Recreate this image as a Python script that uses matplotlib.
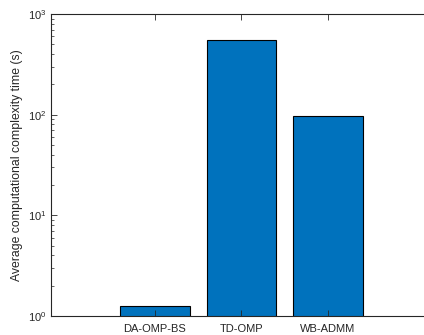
import numpy as np
import matplotlib.pyplot as plt
from matplotlib.ticker import LogLocator, NullFormatter

plt.rcParams['font.family'] = ['Liberation Sans', 'DejaVu Sans']
plt.rcParams['font.size'] = 8

# data
methods = ['DA-OMP-BS', 'TD-OMP', 'WB-ADMM']
times = [1.25, 555, 96]

fig = plt.figure(figsize=(4.24, 3.35), dpi=100)
ax = fig.add_axes([51 / 424, 19 / 335, 373 / 424, 302 / 335])

x = np.arange(len(methods))
ax.bar(x, times, width=0.8, color='#0072BD', edgecolor='black', linewidth=0.8)

ax.set_yscale('log')
ax.set_ylim(1, 1000)
ax.set_xlim(-1.202, 3.11)
ax.set_xticks(x)
ax.set_xticklabels(methods)
ax.yaxis.set_major_locator(LogLocator(base=10, numticks=10))
ax.yaxis.set_minor_locator(LogLocator(base=10, subs=np.arange(2, 10), numticks=10))
ax.yaxis.set_minor_formatter(NullFormatter())
ax.set_ylabel('Average computational complexity time (s)', color='#262626',
              fontsize=8.8, labelpad=3)

gray = '#262626'
ax.tick_params(axis='both', which='major', direction='in', length=4, width=0.6,
               colors=gray, labelsize=8, top=True, right=False)
ax.tick_params(axis='y', which='minor', direction='in', length=2.5, width=0.5,
               colors=gray, right=False)
ax.tick_params(axis='x', which='major', pad=6)
for side in ['left', 'top', 'bottom']:
    ax.spines[side].set_color(gray)
    ax.spines[side].set_linewidth(0.8)
ax.spines['right'].set_visible(False)

fig.savefig('out.png', dpi=100)
